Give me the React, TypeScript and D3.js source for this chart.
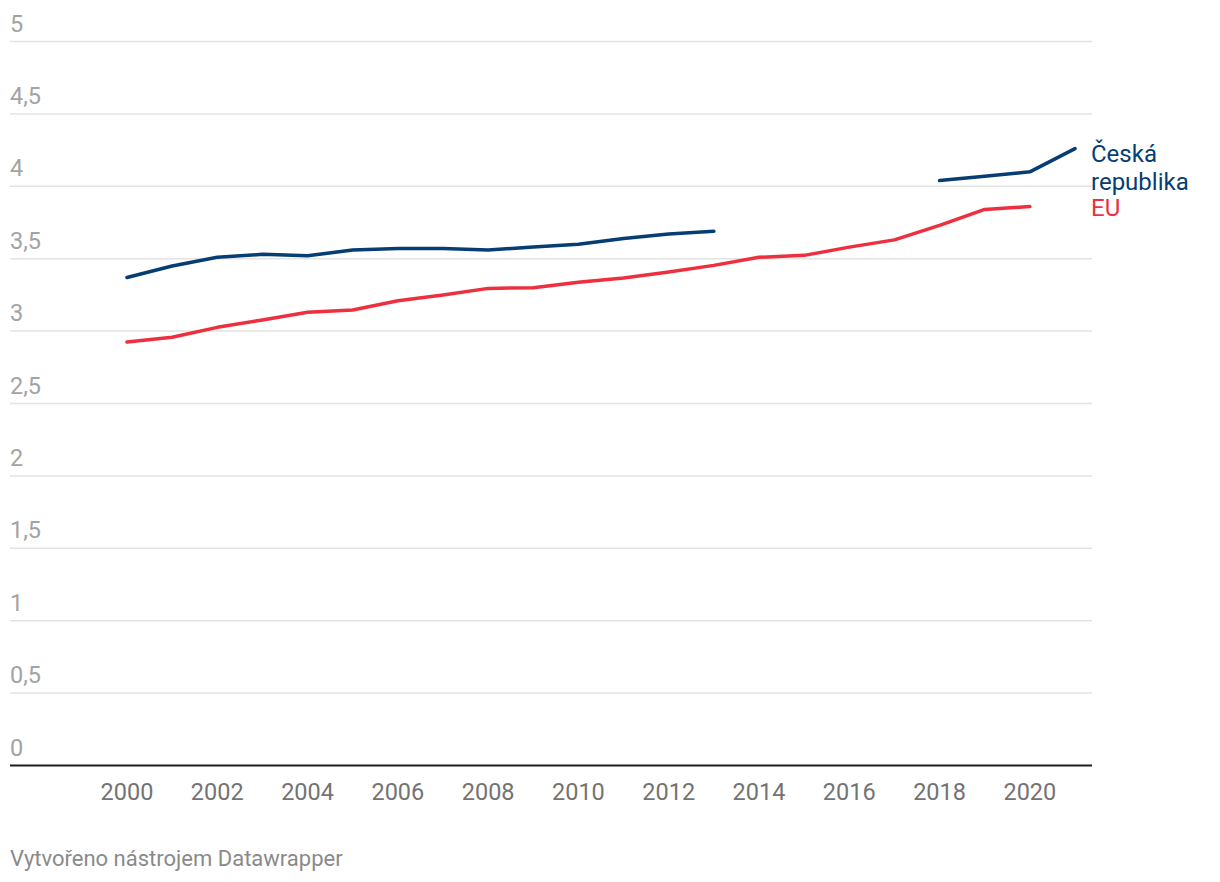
import React from "react";
import * as d3 from "d3";

const years = [2000, 2001, 2002, 2003, 2004, 2005, 2006, 2007, 2008, 2009, 2010, 2011, 2012, 2013, 2014, 2015, 2016, 2017, 2018, 2019, 2020, 2021];
const czValues: (number | null)[] = [3.37, 3.45, 3.51, 3.53, 3.52, 3.56, 3.57, 3.57, 3.56, 3.58, 3.6, 3.64, 3.67, 3.69, null, null, null, null, 4.04, 4.07, 4.1, 4.26];
const euValues: (number | null)[] = [2.925, 2.957, 3.026, 3.077, 3.13, 3.146, 3.21, 3.25, 3.295, 3.3, 3.337, 3.367, 3.408, 3.454, 3.51, 3.523, 3.58, 3.63, 3.73, 3.84, 3.86, null];
const yTicks = [0, 0.5, 1, 1.5, 2, 2.5, 3, 3.5, 4, 4.5, 5];
const xTicks = [2000, 2002, 2004, 2006, 2008, 2010, 2012, 2014, 2016, 2018, 2020];
const czLabel = ["Česká", "republika"];
const euLabel = "EU";
const footer = "Vytvořeno nástrojem Datawrapper";

const W = 1220;
const H = 882;
const CZ_COLOR = "#063d72";
const EU_COLOR = "#ed2f3e";
const FONT = "Roboto, 'Noto Sans', sans-serif";

export default function App() {
  const x = d3.scaleLinear().domain([2000, 2021]).range([127, 1075]);
  const y = d3.scaleLinear().domain([0, 5]).range([765.5, 41.5]);
  const gridLeft = 10;
  const gridRight = 1092;

  const line = d3
    .line<[number, number | null]>()
    .defined((d) => d[1] !== null)
    .x((d) => x(d[0]))
    .y((d) => y(d[1] as number));

  const czData = years.map((yr, i) => [yr, czValues[i]] as [number, number | null]);
  const euData = years.map((yr, i) => [yr, euValues[i]] as [number, number | null]);

  const fmt = (v: number) => String(v).replace(".", ",");

  return (
    <svg
      width={W}
      height={H}
      style={{ position: "absolute", left: 0, top: 0, background: "#fff" }}
      fontFamily={FONT}
    >
      {yTicks.map((t) => (
        <g key={t}>
          {t !== 0 && (
            <line x1={gridLeft} x2={gridRight} y1={y(t)} y2={y(t)} stroke="#e3e3e3" strokeWidth={1.5} />
          )}
          <text x={gridLeft} y={y(t) - 10} fontSize={23.5} fill="#a3a3a3">
            {fmt(t)}
          </text>
        </g>
      ))}
      <line x1={gridLeft} x2={gridRight} y1={y(0)} y2={y(0)} stroke="#1d1d1d" strokeWidth={2} />
      {xTicks.map((t) => (
        <text key={t} x={x(t)} y={800} fontSize={23.5} fill="#737373" textAnchor="middle">
          {t}
        </text>
      ))}
      <path d={line(euData) || ""} fill="none" stroke={EU_COLOR} strokeWidth={3.5} strokeLinejoin="round" strokeLinecap="round" />
      <path d={line(czData) || ""} fill="none" stroke={CZ_COLOR} strokeWidth={3.5} strokeLinejoin="round" strokeLinecap="round" />
      <text x={1091} y={162} fontSize={24} fill={CZ_COLOR}>
        {czLabel[0]}
      </text>
      <text x={1091} y={189.5} fontSize={24} fill={CZ_COLOR}>
        {czLabel[1]}
      </text>
      <text x={1091} y={216} fontSize={24} fill={EU_COLOR}>
        {euLabel}
      </text>
      <text x={10} y={865.5} fontSize={22} fill="#8a8a8a">
        {footer}
      </text>
    </svg>
  );
}
